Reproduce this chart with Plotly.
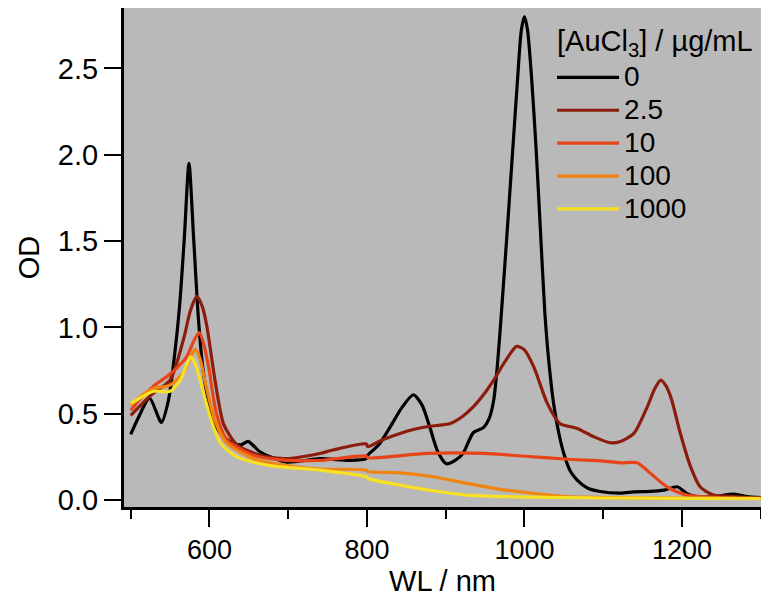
import plotly.graph_objects as go

# ---------------- data ----------------
series_names = ["0", "2.5", "10", "100", "1000"]
series_colors = ["#000000", "#8c1c0c", "#e8441a", "#f0840f", "#f8e024"]
legend_title = "[AuCl<sub>3</sub>] / µg/mL"

wl_0 = [500, 510, 524, 539, 548, 556, 562, 568, 574, 580, 586, 592, 600, 609, 620, 630, 640,
        649, 657, 664, 698, 740, 778, 799, 801, 815, 829, 845, 859, 870, 880, 890, 901, 912,
        922, 935, 948, 955, 961, 966, 971, 978, 985, 991, 996, 1000, 1004, 1009, 1015, 1021,
        1026, 1031, 1037, 1044, 1050, 1058, 1067, 1080, 1096, 1122, 1139, 1160, 1177, 1194,
        1206, 1219, 1240, 1266, 1283, 1300]
od_0 = [0.38, 0.48, 0.59, 0.45, 0.58, 0.85, 1.12, 1.51, 1.95, 1.51, 1.05, 0.75, 0.55, 0.42,
        0.36, 0.33, 0.32, 0.34, 0.31, 0.28, 0.22, 0.24, 0.23, 0.24, 0.26, 0.32, 0.42, 0.54,
        0.61, 0.55, 0.42, 0.28, 0.21, 0.23, 0.27, 0.39, 0.42, 0.47, 0.58, 0.80, 1.10, 1.55,
        2.02, 2.42, 2.72, 2.80, 2.72, 2.45, 2.02, 1.50, 1.08, 0.80, 0.56, 0.38, 0.27, 0.17,
        0.116, 0.07, 0.05, 0.04, 0.048, 0.05, 0.058, 0.077, 0.039, 0.02, 0.02, 0.035, 0.02,
        0.015]

wl_2p5 = [500, 515, 529, 550, 567, 576, 584, 591, 597, 607, 618, 635, 664, 698, 740, 757, 799,
          801, 820, 842, 860, 876, 906, 920, 935, 948, 961, 975, 990, 1000, 1012, 1029, 1045,
          1067, 1088, 1109, 1122, 1139, 1156, 1165, 1173, 1180, 1187, 1198, 1211, 1223, 1240,
          1266, 1300]
od_2p5 = [0.49, 0.56, 0.62, 0.695, 0.93, 1.10, 1.18, 1.12, 1.00, 0.695, 0.44, 0.32, 0.26, 0.24,
          0.27, 0.29, 0.325, 0.31, 0.35, 0.386, 0.41, 0.425, 0.444, 0.48, 0.54, 0.61, 0.695,
          0.80, 0.89, 0.87, 0.77, 0.56, 0.444, 0.415, 0.367, 0.332, 0.34, 0.386, 0.54, 0.64,
          0.695, 0.66, 0.58, 0.386, 0.193, 0.077, 0.029, 0.02, 0.01]

wl_10 = [500, 515, 529, 550, 571, 580, 587, 593, 599, 609, 622, 656, 698, 740, 799, 801, 876,
         948, 1012, 1060, 1100, 1122, 1143, 1160, 1181, 1206, 1250, 1300]
od_10 = [0.52, 0.60, 0.66, 0.73, 0.83, 0.92, 0.97, 0.90, 0.77, 0.50, 0.35, 0.26, 0.23, 0.23,
         0.255, 0.245, 0.27, 0.27, 0.25, 0.235, 0.226, 0.216, 0.216, 0.155, 0.077, 0.029,
         0.015, 0.01]

wl_100 = [500, 515, 529, 550, 569, 576, 582, 588, 594, 607, 622, 656, 698, 740, 799, 801, 842,
          884, 927, 969, 1012, 1054, 1100, 1200, 1300]
od_100 = [0.55, 0.61, 0.647, 0.666, 0.75, 0.83, 0.873, 0.82, 0.695, 0.46, 0.33, 0.24, 0.20,
          0.18, 0.174, 0.165, 0.158, 0.135, 0.097, 0.062, 0.039, 0.02, 0.015, 0.012, 0.01]

wl_1000 = [500, 515, 529, 550, 563, 570, 576, 582, 588, 601, 614, 635, 677, 740, 799, 801, 842,
           884, 927, 1011, 1100, 1200, 1300]
od_1000 = [0.56, 0.60, 0.63, 0.63, 0.695, 0.77, 0.83, 0.79, 0.695, 0.48, 0.33, 0.25, 0.20,
           0.174, 0.135, 0.125, 0.087, 0.054, 0.029, 0.017, 0.012, 0.01, 0.008]

wl_all = [wl_0, wl_2p5, wl_10, wl_100, wl_1000]
od_all = [od_0, od_2p5, od_10, od_100, od_1000]

x_major = [600, 800, 1000, 1200]
x_minor = [500, 700, 900, 1100, 1300]
y_ticks = [0.0, 0.5, 1.0, 1.5, 2.0, 2.5]

# ---------------- figure ----------------
FONT = "Liberation Sans, Arial, Helvetica, sans-serif"
fig = go.Figure()
for name, color, xs, ys in zip(series_names, series_colors, wl_all, od_all):
    fig.add_trace(go.Scatter(x=xs, y=ys, mode="lines",
                             name='<span style="font-size:28px">%s</span>' % name,
                             line=dict(color=color, width=3.2, shape="spline", smoothing=0.7)))

fig.update_layout(
    width=761, height=604,
    margin=dict(l=124, r=0, t=8, b=97),
    paper_bgcolor="white", plot_bgcolor="#b9b9b9",
    font=dict(family=FONT, size=27, color="black"),
    showlegend=True,
    legend=dict(x=0.672, y=0.904, xanchor="left", yanchor="top",
                bgcolor="rgba(0,0,0,0)", font=dict(size=23),
                itemwidth=62, tracegroupgap=0),
    annotations=[dict(text=legend_title, xref="paper", yref="paper",
                      x=0.677, y=0.930, xanchor="left", yanchor="middle",
                      showarrow=False, font=dict(size=29, color="black"))],
)
fig.update_xaxes(range=[491.5, 1300.4], tickvals=x_major, ticktext=[str(v) for v in x_major],
                 ticks="outside", ticklen=17, tickwidth=2, tickcolor="black",
                 tickfont=dict(size=27),
                 minor=dict(tickvals=x_minor, ticks="outside", ticklen=9, tickwidth=2,
                            tickcolor="black", showgrid=False),
                 showline=True, linewidth=3, linecolor="black", mirror=False,
                 showgrid=False, zeroline=False,
                 title=dict(text="WL / nm", standoff=6, font=dict(size=29)))
fig.update_yaxes(range=[-0.04, 2.85], tickvals=y_ticks, tickformat=".1f",
                 ticks="outside", ticklen=17, tickwidth=2, tickcolor="black",
                 tickfont=dict(size=29),
                 showline=True, linewidth=3, linecolor="black",
                 showgrid=False, zeroline=False,
                 title=dict(text="OD", standoff=10, font=dict(size=29)))

fig.write_html("out.html")
